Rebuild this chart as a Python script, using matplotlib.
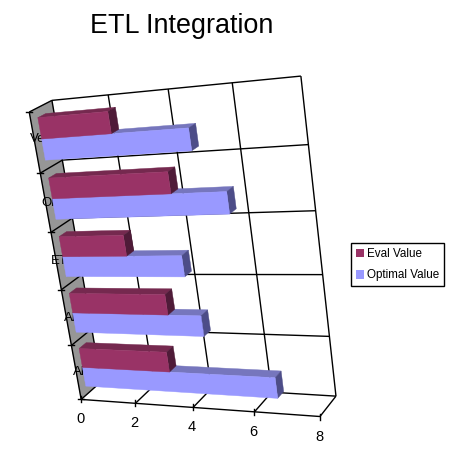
import matplotlib
matplotlib.use('Agg')
import matplotlib.pyplot as plt
import numpy as np
from matplotlib.patches import Patch

plt.rcParams['font.family'] = ['Liberation Sans', 'DejaVu Sans']

title = 'ETL Integration'
categories = ['Al', 'Al', 'ET', 'Or', 'Ve']   # bottom to top, cut off by the bars in the original
eval_value = [3.15, 3.4, 2.3, 4.1, 2.45]
optimal_value = [6.6, 4.5, 4.15, 5.85, 4.95]
x_ticks = [0, 2, 4, 6, 8]
series_names = ['Eval Value', 'Optimal Value']

# fake 3d: camera fitted on the box corners (x value, y category, z depth -> pixel)
calib = [
    (0, 0, 0, 83, 397), (8, 0, 0, 319, 419), (8, 0, 1, 336, 393), (0, 0, 1, 98, 385),
    (0, 5, 1, 55, 100), (8, 5, 1, 301, 76), (0, 5, 0, 28, 113),
    (2, 0, 0, 137, 403), (6, 0, 0, 255, 413),
    (0, 1, 0, 72, 345), (0, 2, 0, 62, 288), (0, 3, 0, 50, 233), (0, 4, 0, 38, 173),
]
rows = []
for x, y, z, u, v in calib:
    rows.append([x, y, z, 1, 0, 0, 0, 0, -u * x, -u * y, -u * z, -u])
    rows.append([0, 0, 0, 0, x, y, z, 1, -v * x, -v * y, -v * z, -v])
P = np.linalg.svd(np.array(rows, dtype=float))[2][-1].reshape(3, 4)


def proj(x, y, z):
    h = P @ np.array([x, y, z, 1.0])
    return h[0] / h[2], h[1] / h[2]


def face(ax, pts, color, zorder=3):
    ax.fill(*zip(*[proj(*p) for p in pts]), facecolor=color, edgecolor=color, linewidth=0.3, zorder=zorder)


def line3(ax, a, b, lw=1.0, zorder=2):
    pa, pb = proj(*a), proj(*b)
    ax.plot([pa[0], pb[0]], [pa[1], pb[1]], color='black', lw=lw, zorder=zorder, solid_capstyle='butt')


def box(ax, v, y0, y1, cols, z0=0.3, z1=0.65):
    face(ax, [(0, y1, z0), (v, y1, z0), (v, y1, z1), (0, y1, z1)], cols[1])
    face(ax, [(v, y0, z0), (v, y0, z1), (v, y1, z1), (v, y1, z0)], cols[2])
    face(ax, [(0, y0, z0), (v, y0, z0), (v, y1, z0), (0, y1, z0)], cols[0])


fig = plt.figure(figsize=(4.57, 4.67), dpi=100)
ax = fig.add_axes([0, 0, 1, 1])
ax.set_xlim(0, 457)
ax.set_ylim(467, 0)
ax.axis('off')

ax.text(182, 26, title, fontsize=19.4, ha='center', va='center')

# left wall
face(ax, [(0, 0, 0), (0, 0, 1), (0, 5, 1), (0, 5, 0)], '#969696', zorder=1.5)

# category labels sit on the wall, the bars hide the rest of them
label_px = [(79, 372), (70, 318), (59, 261), (49, 203), (38, 139)]
for c, (u, v) in zip(categories, label_px):
    ax.text(u, v, c, fontsize=9.5, ha='center', va='center', zorder=2.5)

# grid
for x in x_ticks[1:]:
    line3(ax, (x, 0, 1), (x, 5, 1))
    line3(ax, (x, 0, 0), (x, 0, 1))
for y in range(1, 5):
    line3(ax, (0, y, 1), (8, y, 1))
    line3(ax, (0, y, 0), (0, y, 1))
line3(ax, (0, 0, 1), (8, 0, 1))
line3(ax, (0, 5, 1), (8, 5, 1))
line3(ax, (0, 0, 0), (8, 0, 0))
line3(ax, (0, 0, 0), (0, 5, 0))
line3(ax, (0, 5, 0), (0, 5, 1))
line3(ax, (0, 0, 0), (0, 0, 1))
line3(ax, (0, 0, 1), (0, 5, 1))

# ticks and x labels
for x in x_ticks:
    u, v = proj(x, 0, 0)
    ax.plot([u, u], [v - 3, v + 3], color='black', lw=1.0, zorder=2)
    ax.text(u - 1, v + 20, str(x), fontsize=10.5, ha='center', va='center')
for y in range(0, 6):
    u, v = proj(0, y, 0)
    ax.plot([u - 3, u + 3], [v, v], color='black', lw=1.0, zorder=2)

# bars, top category first so the lower ones sit in front
eval_cols = ['#993366', '#75294f', '#4f1b38']
opt_cols = ['#9999ff', '#7676bd', '#4d4d88']
for i in range(len(categories) - 1, -1, -1):
    box(ax, optimal_value[i], i + 0.15, i + 0.5, opt_cols)
    box(ax, eval_value[i], i + 0.5, i + 0.85, eval_cols)

handles = [Patch(facecolor='#993366', edgecolor='none'), Patch(facecolor='#9999ff', edgecolor='none')]
leg = ax.legend(handles, series_names, loc='upper left', bbox_to_anchor=(351 / 457, 1 - 243 / 467),
                fontsize=8.4, frameon=True, fancybox=False, edgecolor='black', framealpha=1,
                handlelength=0.7, handleheight=0.8, handletextpad=0.25, labelspacing=0.8,
                borderpad=0.43, borderaxespad=0)
leg.get_frame().set_linewidth(1.0)

plt.savefig('out.png', dpi=100)
